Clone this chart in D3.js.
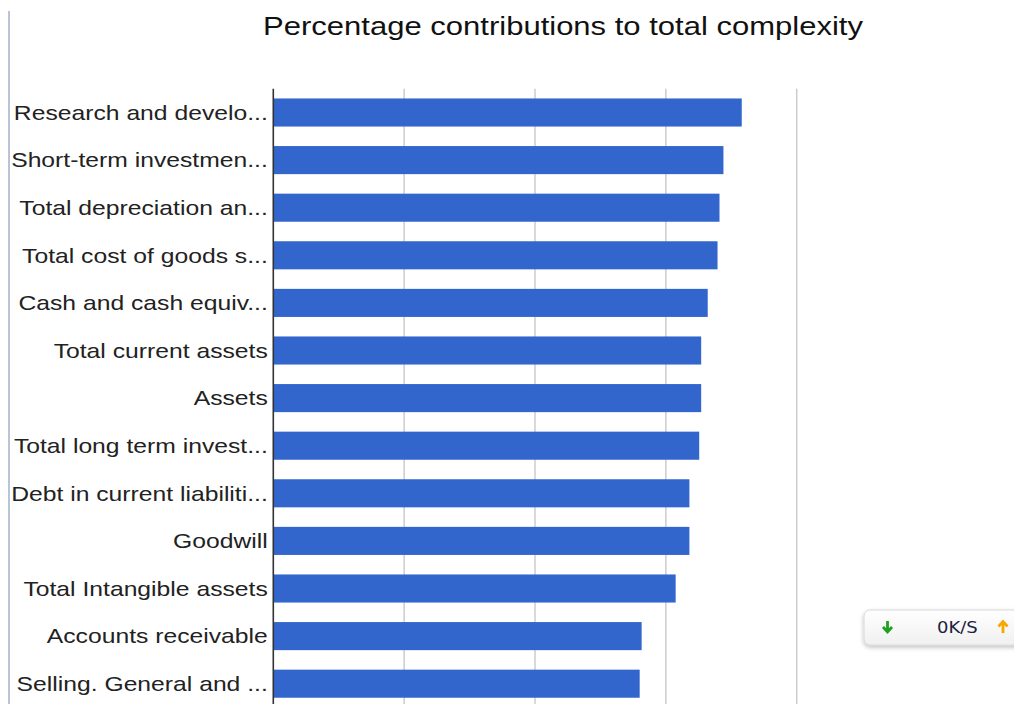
<!DOCTYPE html>
<html>
<head>
<meta charset="utf-8">
<script src="https://cdn.jsdelivr.net/npm/d3@7"></script>
<style>
  html, body { margin: 0; padding: 0; background: #fff; }
  svg { display: block; }
</style>
</head>
<body>
<svg id="chart" width="1014" height="704"></svg>
<script>
const title = "Percentage contributions to total complexity";
const categories = [
  "Research and develo...",
  "Short-term investmen...",
  "Total depreciation an...",
  "Total cost of goods s...",
  "Cash and cash equiv...",
  "Total current assets",
  "Assets",
  "Total long term invest...",
  "Debt in current liabiliti...",
  "Goodwill",
  "Total Intangible assets",
  "Accounts receivable",
  "Selling. General and ..."
];
const values = [7.16, 6.88, 6.82, 6.79, 6.64, 6.54, 6.54, 6.51, 6.36, 6.36, 6.15, 5.63, 5.60];
const xTicks = [0, 2, 4, 6, 8];
const widgetText = "0K/S";

const svg = d3.select("#chart");
const W = 1014, H = 704;
const stretch = 1.235;

const x = d3.scaleLinear().domain([0, 8]).range([273.3, 796.7]);
const y = d3.scaleBand().domain(categories).range([88.7, 88.7 + 47.6 * categories.length])
  .paddingInner(0.41).paddingOuter(0.205);

// left border line
svg.append("line").attr("x1", 9).attr("x2", 9).attr("y1", 11).attr("y2", H)
  .attr("stroke", "#b9c4d6").attr("stroke-width", 2);

// title
svg.append("g").attr("transform", `translate(563,35) scale(${1.193},1)`)
  .append("text").attr("text-anchor", "middle")
  .attr("font-family", "Liberation Sans, Arial, sans-serif").attr("font-size", 26)
  .attr("fill", "#111").text(title);

// gridlines
svg.append("g").selectAll("line").data(xTicks.slice(1)).join("line")
  .attr("x1", d => x(d)).attr("x2", d => x(d))
  .attr("y1", 88.7).attr("y2", H)
  .attr("stroke", "#cccccc").attr("stroke-width", 1.5);

// bars
svg.append("g").selectAll("rect").data(values).join("rect")
  .attr("x", x(0))
  .attr("y", (d, i) => y(categories[i]))
  .attr("width", d => x(d) - x(0))
  .attr("height", y.bandwidth())
  .attr("fill", "#3366cc");

// baseline axis
svg.append("line").attr("x1", x(0)).attr("x2", x(0)).attr("y1", 88.7).attr("y2", H)
  .attr("stroke", "#333").attr("stroke-width", 1.6);

// category labels
const lab = svg.append("g");
categories.forEach(c => {
  lab.append("g").attr("transform", `translate(${x(0) - 5.5},${y(c) + y.bandwidth() / 2}) scale(${stretch},1)`)
    .append("text").attr("text-anchor", "end").attr("dy", "0.36em")
    .attr("font-family", "Liberation Sans, Arial, sans-serif").attr("font-size", 20)
    .attr("fill", "#222").text(c);
});

// bottom-right speed widget
const defs = svg.append("defs");
const f = defs.append("filter").attr("id", "sh").attr("x", "-20%").attr("y", "-30%").attr("width", "140%").attr("height", "180%");
f.append("feDropShadow").attr("dx", 0).attr("dy", 2).attr("stdDeviation", 2).attr("flood-color", "#000").attr("flood-opacity", 0.25);
const grad = defs.append("linearGradient").attr("id", "wg").attr("x1", 0).attr("y1", 0).attr("x2", 0).attr("y2", 1);
grad.append("stop").attr("offset", "0%").attr("stop-color", "#ffffff");
grad.append("stop").attr("offset", "100%").attr("stop-color", "#f0f0f0");
const wdg = svg.append("g");
wdg.append("rect").attr("x", 864).attr("y", 610).attr("width", 170).attr("height", 35).attr("rx", 6)
  .attr("fill", "url(#wg)").attr("stroke", "#d8d8d8").attr("filter", "url(#sh)");
// green down arrow
wdg.append("path").attr("d", "M887.5,621 L887.5,631 M883,627 L887.5,632 L892,627")
  .attr("stroke", "#1fa01f").attr("stroke-width", 2.8).attr("fill", "none");
wdg.append("g").attr("transform", "translate(937,633) scale(1.2,1)")
  .append("text").attr("font-family", "DejaVu Sans, Verdana, sans-serif").attr("font-size", 15)
  .attr("fill", "#1c2340").text(widgetText);
// orange up arrow
wdg.append("path").attr("d", "M1003,633 L1003,622 M998.5,626.5 L1003,621.5 L1007.5,626.5")
  .attr("stroke", "#f5a800").attr("stroke-width", 2.8).attr("fill", "none");
</script>
</body>
</html>
